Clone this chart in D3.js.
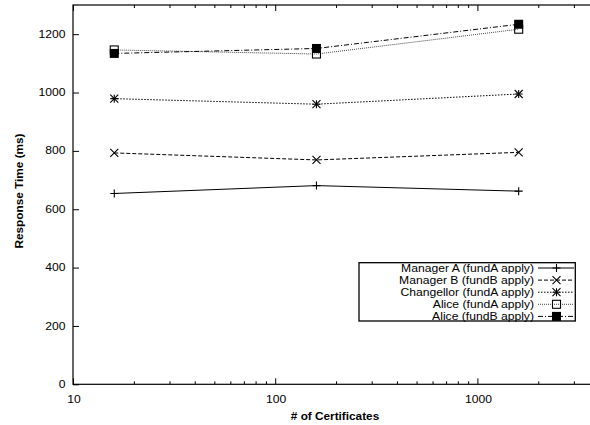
<!DOCTYPE html>
<html>
<head>
<meta charset="utf-8">
<script src="https://cdn.jsdelivr.net/npm/d3@7"></script>
<style>
  body { margin: 0; background: #fff; }
  text { font-family: "Liberation Sans", Arial, sans-serif; fill: #000; }
</style>
</head>
<body>
<div id="chart"></div>
<script>
// data
const certificates = [16, 160, 1600];
const managerA = [654, 681, 662];
const managerB = [793, 769, 795];
const changellor = [979, 960, 995];
const aliceA = [1146, 1132, 1217];
const aliceB = [1134, 1151, 1234];

const seriesNames = [
  "Manager A (fundA apply)",
  "Manager B (fundB apply)",
  "Changellor (fundA apply)",
  "Alice (fundA apply)",
  "Alice (fundB apply)"
];
const xTickValues = [10, 100, 1000];
const yTickValues = [0, 200, 400, 600, 800, 1000, 1200];

const width = 590;
const height = 425;
const margin = { top: 5, left: 73, bottom: 384.3 };
const stretch = 1.18; // the original font is wider than Arial

const series = [
  { name: seriesNames[0], values: managerA, dash: null, marker: "plus", color: "#000" },
  { name: seriesNames[1], values: managerB, dash: "4,2", marker: "cross", color: "#000" },
  { name: seriesNames[2], values: changellor, dash: "1.5,1.5", marker: "star", color: "#000" },
  { name: seriesNames[3], values: aliceA, dash: "1,1", marker: "box", color: "#444" },
  { name: seriesNames[4], values: aliceB, dash: "5,2,1,2", marker: "fbox", color: "#000" }
];

const svg = d3.select("#chart")
  .append("svg")
  .attr("width", width)
  .attr("height", height);

const x = d3.scaleLog()
  .domain([10, 10000])
  .range([margin.left, margin.left + 3 * 202.2]);

const y = d3.scaleLinear()
  .domain([0, 1300])
  .range([margin.bottom, margin.top]);

const minorTicks = x.ticks().filter(d => !xTickValues.includes(d));

// ticks (inward, gnuplot style)
function tickGroup(axis, ty) {
  const g = svg.append("g").attr("transform", `translate(0,${ty})`).call(axis);
  g.select(".domain").remove();
  g.selectAll("line").attr("stroke", "#000").attr("stroke-width", 1);
  g.selectAll("text").remove();
  return g;
}
tickGroup(d3.axisBottom(x).tickValues(xTickValues).tickSize(-6), margin.bottom);
tickGroup(d3.axisBottom(x).tickValues(minorTicks).tickSize(-3), margin.bottom);
tickGroup(d3.axisTop(x).tickValues(xTickValues).tickSize(-6), margin.top);
tickGroup(d3.axisTop(x).tickValues(minorTicks).tickSize(-3), margin.top);
tickGroup(d3.axisLeft(y).tickValues(yTickValues).tickSize(-6), 0)
  .attr("transform", `translate(${margin.left},0)`);

// frame
svg.append("rect")
  .attr("x", margin.left)
  .attr("y", margin.top)
  .attr("width", 700)
  .attr("height", margin.bottom - margin.top)
  .attr("fill", "none")
  .attr("stroke", "#000")
  .attr("stroke-width", 1.2);

function label(tx, ty, str, anchor, opts = {}) {
  return svg.append("text")
    .attr("transform", `translate(${tx},${ty})${opts.rotate ? " rotate(-90)" : ""} scale(${stretch},1)`)
    .attr("text-anchor", anchor)
    .attr("dy", opts.dy || null)
    .style("font-size", (opts.size || 10.3) + "px")
    .style("font-weight", opts.bold ? "bold" : null)
    .text(str);
}

xTickValues.forEach(v => label(x(v) + 1, 403, d3.format("d")(v), "middle"));
yTickValues.forEach(v => label(65.5, y(v), v, "end", { dy: "0.35em" }));

label(335, 419.5, "# of Certificates", "middle", { bold: true, size: 10 });
label(22.5, 191, "Response Time (ms)", "middle", { bold: true, size: 10, rotate: true });

// markers
function marker(g, type, cx, cy, color) {
  const s = 4;
  const stroke = p => g.append("path").attr("d", p).attr("stroke", color)
    .attr("stroke-width", 1.1).attr("fill", "none");
  if (type === "plus" || type === "star") {
    stroke(`M${cx - s},${cy}H${cx + s}M${cx},${cy - s}V${cy + s}`);
  }
  if (type === "cross" || type === "star") {
    stroke(`M${cx - s},${cy - s}L${cx + s},${cy + s}M${cx - s},${cy + s}L${cx + s},${cy - s}`);
  }
  if (type === "box") {
    g.append("rect").attr("x", cx - s).attr("y", cy - s)
      .attr("width", 2 * s).attr("height", 2 * s)
      .attr("fill", "none").attr("stroke", "#000").attr("stroke-width", 1.1);
  }
  if (type === "fbox") {
    g.append("rect").attr("x", cx - 4.5).attr("y", cy - 4.5)
      .attr("width", 9).attr("height", 9).attr("fill", "#000");
  }
}

const line = d3.line()
  .x((d, i) => x(certificates[i]))
  .y(d => y(d));

const plot = svg.append("g");
series.forEach(s => {
  plot.append("path")
    .datum(s.values)
    .attr("d", line)
    .attr("fill", "none")
    .attr("stroke", s.color)
    .attr("stroke-width", 1)
    .attr("stroke-dasharray", s.dash);
});
series.forEach(s => {
  s.values.forEach((v, i) => marker(plot, s.marker, x(certificates[i]), y(v), "#000"));
});

// legend
const legend = svg.append("g");
legend.append("rect")
  .attr("x", 359)
  .attr("y", 262.7)
  .attr("width", 216.3)
  .attr("height", 58.3)
  .attr("fill", "#fff")
  .attr("stroke", "#000")
  .attr("stroke-width", 1.3);

series.forEach((s, i) => {
  const ly = 268 + i * 12.1;
  label(534, ly, s.name, "end", { dy: "0.35em" });
  legend.append("line")
    .attr("x1", 538).attr("x2", 574)
    .attr("y1", ly).attr("y2", ly)
    .attr("stroke", s.color)
    .attr("stroke-width", 1)
    .attr("stroke-dasharray", s.dash);
  marker(legend, s.marker, 556.5, ly, "#000");
});
</script>
</body>
</html>
